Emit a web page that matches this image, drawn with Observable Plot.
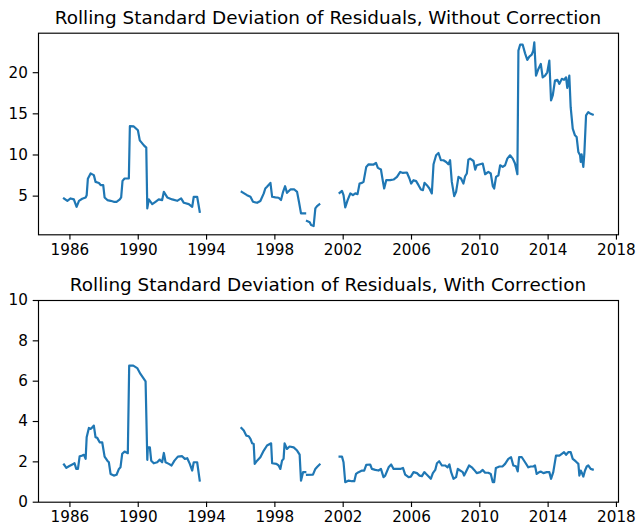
<!DOCTYPE html>
<html>
<head>
<meta charset="utf-8">
<script src="https://cdn.jsdelivr.net/npm/d3@7"></script>
<script src="https://cdn.jsdelivr.net/npm/@observablehq/plot@0.6"></script>
<style>
  html, body { margin: 0; padding: 0; background: white; }
  #fig { position: relative; width: 636px; height: 529px; font-family: "DejaVu Sans", sans-serif; }
  .ttl { position: absolute; left: 0; width: 656px; text-align: center; font-size: 18.4px; line-height: 1; color: black; white-space: nowrap; }
  .panel { position: absolute; left: 0; }
</style>
</head>
<body>
<div id="fig"></div>
<script>
// ---- data (decimal years; null = gap in the series) ----
const xTicks = [1986, 1990, 1994, 1998, 2002, 2006, 2010, 2014, 2018];
const topTicks = [5, 10, 15, 20];
const bottomTicks = [0, 2, 4, 6, 8, 10];

const topTitle = "Rolling Standard Deviation of Residuals, Without Correction";
const bottomTitle = "Rolling Standard Deviation of Residuals, With Correction";

const topYears = [
  1985.65, 1985.85, 1986.04, 1986.23, 1986.39, 1986.53, 1986.72, 1986.92, 1986.98, 1987.05,
  1987.21, 1987.40, 1987.50, 1987.70, 1987.80, 1987.95, 1988.03, 1988.19, 1988.38, 1988.57,
  1988.73, 1988.92, 1989.00, 1989.08, 1989.20, 1989.45, 1989.51, 1989.74, 1989.98, 1990.09,
  1990.33, 1990.47, 1990.53, 1990.62, 1990.82, 1991.01, 1991.20, 1991.40, 1991.50, 1991.70,
  1991.99, 1992.28, 1992.51, 1992.67, 1992.96, 1993.16, 1993.25, 1993.45, 1993.60,
  1994.80,
  1996.06, 1996.37, 1996.57, 1996.72, 1996.96, 1997.15, 1997.35, 1997.44, 1997.54, 1997.74,
  1997.84, 1998.03, 1998.22, 1998.36, 1998.48, 1998.60, 1998.71, 1998.91, 1999.14, 1999.30,
  1999.41, 1999.53, 1999.77,
  1999.83,
  1999.88, 2000.04, 2000.12, 2000.27, 2000.37, 2000.47, 2000.60,
  2001.20,
  2001.79, 2001.93, 2002.02, 2002.12, 2002.26, 2002.42, 2002.57, 2002.71, 2002.84, 2002.96,
  2003.10, 2003.19, 2003.35, 2003.49, 2003.78, 2003.92, 2004.03, 2004.21, 2004.33, 2004.40,
  2004.52, 2004.75, 2004.95, 2005.15, 2005.34, 2005.50, 2005.73, 2005.88, 2005.98, 2006.12,
  2006.27, 2006.41, 2006.55, 2006.67, 2006.76, 2006.90, 2007.05, 2007.19, 2007.29, 2007.44,
  2007.58, 2007.72, 2007.87, 2008.03, 2008.16, 2008.26, 2008.36, 2008.50, 2008.61, 2008.75,
  2008.90, 2009.04, 2009.14, 2009.24, 2009.33, 2009.43, 2009.63, 2009.73, 2009.82, 2010.02,
  2010.17, 2010.31, 2010.50, 2010.64, 2010.76, 2010.84, 2010.95, 2011.09, 2011.19, 2011.34,
  2011.48, 2011.61, 2011.77, 2011.93, 2012.06, 2012.20, 2012.26, 2012.36, 2012.51, 2012.65,
  2012.78, 2012.90, 2013.04, 2013.13, 2013.19, 2013.29, 2013.43, 2013.57, 2013.68, 2013.82,
  2013.95, 2014.07, 2014.17, 2014.27, 2014.40, 2014.54, 2014.66, 2014.80, 2014.93, 2015.05,
  2015.12, 2015.24, 2015.32, 2015.44, 2015.57, 2015.67, 2015.77, 2015.87, 2015.91, 2015.96,
  2016.06, 2016.12, 2016.22, 2016.35, 2016.49, 2016.61
];
const topValues = [
  4.72, 4.43, 4.72, 4.60, 3.70, 4.43, 4.68, 4.84, 5.10, 7.10,
  7.75, 7.55, 6.73, 6.60, 6.33, 6.33, 4.84, 4.52, 4.43, 4.31,
  4.31, 4.60, 4.84, 6.85, 7.14, 7.14, 13.50, 13.47, 13.00, 11.78,
  11.17, 10.90, 3.51, 4.60, 4.03, 4.31, 4.60, 4.52, 5.52, 4.84,
  4.60, 4.43, 4.72, 4.19, 4.03, 3.70, 4.92, 4.92, 3.10,
  null,
  5.52, 5.12, 4.92, 4.31, 4.19, 4.40, 5.33, 5.93, 6.13, 6.61,
  4.92, 4.84, 4.80, 4.52, 5.52, 6.20, 5.40, 5.81, 5.81, 5.52,
  4.31, 2.90, 2.90,
  null,
  1.97, 1.82, 1.49, 1.37, 3.51, 3.79, 4.00,
  null,
  5.40, 5.64, 5.12, 3.63, 4.52, 5.33, 5.12, 5.33, 5.24, 6.53,
  6.61, 6.73, 8.55, 8.87, 8.84, 9.03, 8.43, 8.23, 6.73, 5.93,
  6.94, 6.94, 7.02, 7.34, 7.94, 7.82, 7.87, 7.14, 6.53, 6.94,
  6.82, 6.33, 5.81, 5.73, 6.61, 6.33, 5.93, 5.33, 8.87, 9.96,
  10.24, 9.36, 9.36, 9.15, 8.87, 9.36, 6.73, 5.00, 5.52, 7.34,
  7.14, 6.53, 7.42, 7.75, 9.44, 9.56, 9.27, 8.23, 8.75, 8.87,
  8.96, 7.66, 7.94, 7.75, 6.21, 5.93, 7.34, 7.54, 8.75, 8.55,
  8.75, 9.56, 9.96, 9.56, 8.96, 7.66, 22.68, 23.40, 23.40, 22.35,
  21.55, 21.95, 22.19, 22.68, 23.68, 19.65, 20.46, 21.07, 19.44, 19.65,
  20.05, 21.47, 16.62, 17.23, 19.04, 19.13, 18.64, 19.25, 19.13, 19.44,
  18.16, 19.65, 15.81, 13.20, 12.39, 12.18, 10.36, 9.96, 9.15, 10.08,
  8.55, 10.17, 14.80, 15.20, 15.00, 14.90
];

const bottomYears = [
  1985.65, 1985.79, 1985.94, 1986.14, 1986.27, 1986.37, 1986.47, 1986.57, 1986.72, 1986.82,
  1986.92, 1986.98, 1987.11, 1987.21, 1987.31, 1987.40, 1987.50, 1987.60, 1987.74, 1987.89,
  1988.03, 1988.19, 1988.28, 1988.38, 1988.57, 1988.73, 1988.87, 1988.96, 1989.06, 1989.20,
  1989.39, 1989.47, 1989.71, 1989.94, 1990.13, 1990.29, 1990.43, 1990.53, 1990.56, 1990.68,
  1990.76, 1990.91, 1991.11, 1991.26, 1991.40, 1991.50, 1991.60, 1991.79, 1991.95, 1992.12,
  1992.32, 1992.57, 1992.73, 1992.87, 1993.02, 1993.16, 1993.25, 1993.45, 1993.60,
  1994.80,
  1996.04, 1996.18, 1996.33, 1996.47, 1996.57, 1996.67, 1996.76, 1996.82, 1996.96, 1997.15,
  1997.35, 1997.54, 1997.78, 1997.84, 1998.09, 1998.22, 1998.32, 1998.42, 1998.51, 1998.57,
  1998.71, 1998.86, 1999.10, 1999.30, 1999.45, 1999.53, 1999.65, 1999.78,
  1999.83,
  1999.88, 2000.23, 2000.37, 2000.50, 2000.62,
  2001.20,
  2001.79, 2001.93, 2002.02, 2002.12, 2002.32, 2002.51, 2002.65, 2002.75, 2002.90, 2003.10,
  2003.23, 2003.35, 2003.58, 2003.68, 2003.88, 2004.07, 2004.21, 2004.36, 2004.46, 2004.66,
  2004.81, 2004.95, 2005.15, 2005.34, 2005.50, 2005.63, 2005.83, 2005.96, 2006.12, 2006.32,
  2006.47, 2006.61, 2006.75, 2006.86, 2006.99, 2007.13, 2007.25, 2007.39, 2007.49, 2007.62,
  2007.78, 2007.97, 2008.11, 2008.22, 2008.32, 2008.46, 2008.61, 2008.71, 2008.85, 2009.00,
  2009.08, 2009.24, 2009.37, 2009.53, 2009.67, 2009.82, 2010.02, 2010.17, 2010.31, 2010.50,
  2010.64, 2010.76, 2010.84, 2010.94, 2011.15, 2011.34, 2011.48, 2011.67, 2011.83, 2011.96,
  2012.12, 2012.22, 2012.30, 2012.46, 2012.65, 2012.84, 2012.98, 2013.13, 2013.23, 2013.33,
  2013.48, 2013.58, 2013.72, 2013.92, 2014.07, 2014.17, 2014.30, 2014.46, 2014.66, 2014.80,
  2014.93, 2015.05, 2015.18, 2015.32, 2015.44, 2015.57, 2015.67, 2015.77, 2015.83, 2015.91,
  2015.96, 2016.06, 2016.16, 2016.26, 2016.35, 2016.49, 2016.61
];
const bottomValues = [
  1.87, 1.70, 1.78, 1.87, 1.93, 1.65, 1.65, 2.28, 2.31, 2.35,
  2.15, 3.22, 3.68, 3.63, 3.71, 3.80, 3.22, 3.19, 2.97, 2.97,
  2.26, 2.06, 1.98, 1.40, 1.32, 1.36, 1.65, 1.73, 2.40, 2.51,
  2.43, 6.77, 6.77, 6.65, 6.36, 6.16, 5.99, 2.10, 2.72, 2.72,
  2.06, 1.93, 1.98, 2.11, 1.98, 2.44, 1.98, 1.90, 1.82, 2.06,
  2.26, 2.28, 2.15, 2.18, 1.90, 1.57, 1.98, 1.98, 1.07,
  null,
  3.68, 3.55, 3.30, 3.27, 3.14, 2.92, 2.89, 1.90, 2.06, 2.23,
  2.56, 2.81, 2.92, 1.93, 1.90, 1.82, 1.65, 2.06, 2.15, 2.92,
  2.64, 2.76, 2.72, 2.56, 2.36, 1.07, 1.49, 1.49,
  null,
  1.36, 1.37, 1.65, 1.77, 1.87,
  null,
  2.26, 2.26, 1.98, 0.99, 1.07, 1.04, 1.04, 1.40, 1.49, 1.57,
  1.57, 1.85, 1.87, 1.65, 1.60, 1.57, 1.65, 1.24, 1.32, 1.73,
  1.87, 1.65, 1.65, 1.65, 1.70, 1.37, 1.24, 1.27, 1.49, 1.44,
  1.32, 1.29, 1.49, 1.40, 1.29, 1.16, 1.44, 1.60, 1.93, 2.03,
  1.82, 1.82, 1.73, 1.87, 1.49, 1.16, 1.24, 1.65, 1.57, 1.49,
  1.32, 1.60, 1.82, 1.73, 1.60, 1.44, 1.49, 1.60, 1.46, 1.46,
  1.40, 0.99, 0.99, 1.70, 1.77, 1.78, 1.90, 2.15, 2.23, 1.82,
  1.78, 1.53, 2.23, 2.23, 1.98, 1.73, 1.77, 1.77, 1.82, 1.40,
  1.49, 1.52, 1.44, 1.49, 1.49, 1.16, 1.49, 2.31, 2.31, 2.40,
  2.48, 2.35, 2.48, 2.48, 2.15, 2.06, 1.98, 1.90, 1.32, 1.57,
  1.49, 1.27, 1.57, 1.77, 1.82, 1.65, 1.62
];

// ---- drawing ----
const blue = "#1f77b4";
const fig = document.getElementById("fig");

function panel(years, values, yDomain, yTicks, top, height, mTop, mBottom) {
  const data = years.map((x, i) => ({x, y: values[i]}));
  const svg = Plot.plot({
    width: 636,
    height,
    marginLeft: 38,
    marginRight: 18,
    marginTop: mTop,
    marginBottom: mBottom,
    style: {fontFamily: "DejaVu Sans", fontSize: "15.2px", background: "white", color: "black", overflow: "visible"},
    x: {domain: [1984.16, 2018.12]},
    y: {domain: yDomain},
    marks: [
      Plot.line(data, {x: "x", y: "y", stroke: blue, strokeWidth: 2.2, strokeLinejoin: "round", strokeLinecap: "square"}),
      Plot.frame({stroke: "black", strokeWidth: 1.15}),
      Plot.axisX({ticks: xTicks, tickFormat: d => String(d), tickSize: 5.3, tickPadding: 3.8, strokeWidth: 1.15, label: null}),
      Plot.axisY({ticks: yTicks, tickFormat: d => String(d), tickSize: 5.3, tickPadding: 5.3, strokeWidth: 1.15, label: null})
    ]
  });
  svg.classList.add("panel");
  svg.style.top = top + "px";
  fig.appendChild(svg);
}

function title(text, top) {
  const d = document.createElement("div");
  d.className = "ttl";
  d.style.top = top + "px";
  d.textContent = text;
  fig.appendChild(d);
}

panel(topYears, topValues, [0.3, 24.8], topTicks, 0, 265, 32.7, 30.7);
panel(bottomYears, bottomValues, [0, 10], bottomTicks, 265, 264, 35, 27.3);
title(topTitle, 9.4);
title(bottomTitle, 276.4);
</script>
</body>
</html>
